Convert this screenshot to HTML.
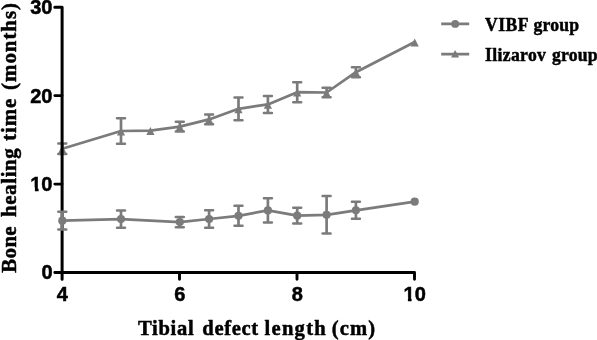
<!DOCTYPE html>
<html><head><meta charset="utf-8"><title>Bone healing time</title>
<style>
html,body{margin:0;padding:0;background:#fff;}
body{width:597px;height:340px;overflow:hidden;}
svg{display:block}
.a{font-family:"Liberation Sans",sans-serif;font-weight:bold;font-size:20px;fill:#000;stroke:#000;stroke-width:0.5px}
.s{font-family:"Liberation Serif",serif;font-weight:bold;fill:#000;stroke:#000;stroke-width:0.5px}
</style></head><body>
<svg width="597" height="340" viewBox="0 0 597 340">
<rect width="597" height="340" fill="#fff"/>
<!-- Ilizarov series -->
<polyline points="62.3,148.8 121.0,131.0 150.4,130.6 179.8,126.6 209.1,119.4 238.5,108.8 267.9,104.4 297.2,92.2 326.6,92.5 355.9,72.2 414.7,42.0" fill="none" stroke="#7b7b7b" stroke-width="2.7" stroke-linejoin="round"/>
<path d="M62.3 143.6V154.0" stroke="#7b7b7b" stroke-width="2.7" fill="none"/>
<path d="M58.3 143.6H66.3M58.3 154.0H66.3" stroke="#7b7b7b" stroke-width="2.5" stroke-linecap="round" fill="none"/>
<path d="M62.3 145.3L66.4 153.2H58.2Z" fill="#7b7b7b"/>
<path d="M121.0 118.2V143.8" stroke="#7b7b7b" stroke-width="2.7" fill="none"/>
<path d="M117.0 118.2H125.0M117.0 143.8H125.0" stroke="#7b7b7b" stroke-width="2.5" stroke-linecap="round" fill="none"/>
<path d="M121.0 127.5L125.1 135.4H116.9Z" fill="#7b7b7b"/>
<path d="M150.4 127.1L154.5 135.0H146.3Z" fill="#7b7b7b"/>
<path d="M179.8 121.8V131.4" stroke="#7b7b7b" stroke-width="2.7" fill="none"/>
<path d="M175.8 121.8H183.8M175.8 131.4H183.8" stroke="#7b7b7b" stroke-width="2.5" stroke-linecap="round" fill="none"/>
<path d="M179.8 123.1L183.9 131.0H175.7Z" fill="#7b7b7b"/>
<path d="M209.1 114.5V124.3" stroke="#7b7b7b" stroke-width="2.7" fill="none"/>
<path d="M205.1 114.5H213.1M205.1 124.3H213.1" stroke="#7b7b7b" stroke-width="2.5" stroke-linecap="round" fill="none"/>
<path d="M209.1 115.9L213.2 123.8H205.0Z" fill="#7b7b7b"/>
<path d="M238.5 97.4V120.2" stroke="#7b7b7b" stroke-width="2.7" fill="none"/>
<path d="M234.5 97.4H242.5M234.5 120.2H242.5" stroke="#7b7b7b" stroke-width="2.5" stroke-linecap="round" fill="none"/>
<path d="M238.5 105.3L242.6 113.2H234.4Z" fill="#7b7b7b"/>
<path d="M267.9 95.9V113.0" stroke="#7b7b7b" stroke-width="2.7" fill="none"/>
<path d="M263.9 95.9H271.9M263.9 113.0H271.9" stroke="#7b7b7b" stroke-width="2.5" stroke-linecap="round" fill="none"/>
<path d="M267.9 100.9L272.0 108.8H263.8Z" fill="#7b7b7b"/>
<path d="M297.2 82.2V102.2" stroke="#7b7b7b" stroke-width="2.7" fill="none"/>
<path d="M293.2 82.2H301.2M293.2 102.2H301.2" stroke="#7b7b7b" stroke-width="2.5" stroke-linecap="round" fill="none"/>
<path d="M297.2 88.7L301.3 96.6H293.1Z" fill="#7b7b7b"/>
<path d="M326.6 87.7V97.3" stroke="#7b7b7b" stroke-width="2.7" fill="none"/>
<path d="M322.6 87.7H330.6M322.6 97.3H330.6" stroke="#7b7b7b" stroke-width="2.5" stroke-linecap="round" fill="none"/>
<path d="M326.6 89.0L330.7 96.9H322.5Z" fill="#7b7b7b"/>
<path d="M355.9 67.2V77.2" stroke="#7b7b7b" stroke-width="2.7" fill="none"/>
<path d="M351.9 67.2H359.9M351.9 77.2H359.9" stroke="#7b7b7b" stroke-width="2.5" stroke-linecap="round" fill="none"/>
<path d="M355.9 68.7L360.1 76.6H351.8Z" fill="#7b7b7b"/>
<path d="M414.7 38.5L418.8 46.4H410.6Z" fill="#7b7b7b"/>
<!-- axes -->
<g stroke="#000" fill="none" stroke-linecap="round" stroke-linejoin="round">
<path d="M54.8 7.2H62.1V279.2" stroke-width="3"/>
<path d="M54.8 272.5H414.5V279.3" stroke-width="2.9"/>
<path d="M54.8 95.6H62M54.8 184.1H62" stroke-width="2.8"/>
<path d="M179.5 272.5V279.3M297 272.5V279.3" stroke-width="2.9"/>
</g>
<!-- tick labels -->
<g class="a" text-anchor="end">
<text x="52.5" y="13.9">30</text>
<text x="52.5" y="102.6">20</text>
<text x="52.5" y="191.1">10</text>
<text x="52.5" y="279.1">0</text>
</g>
<g class="a" text-anchor="middle">
<text x="62.2" y="300.6">4</text>
<text x="179.7" y="300.6">6</text>
<text x="297.2" y="300.6">8</text>
<text x="414.7" y="300.6">10</text>
</g>
<!-- trim the foot of the digit 1 so it reads like the reference face -->
<path d="M403 297H407.9V302.2H403ZM411.6 297H415.2V302.2H411.6ZM30 187.6H34.9V192.6H30ZM38.6 187.6H42.2V192.6H38.6Z" fill="#fff"/>
<!-- axis titles -->
<text class="s" font-size="21.7" transform="scale(0.95 1)" y="335.15"><tspan x="145.26" style="letter-spacing:0.711px">Tibial</tspan> <tspan x="212.95" style="letter-spacing:0.678px">defect</tspan> <tspan x="278.53" style="letter-spacing:1.298px">length</tspan> <tspan x="349.26" style="letter-spacing:1.132px">(cm)</tspan></text>
<text class="s" font-size="20.9" transform="translate(15.5 0) rotate(-90) scale(1.0 1)" y="0"><tspan x="-272.70" style="letter-spacing:0.348px">Bone</tspan> <tspan x="-217.10" style="letter-spacing:0.650px">healing</tspan> <tspan x="-140.80" style="letter-spacing:0.898px">time</tspan> <tspan x="-89.90" style="letter-spacing:0.969px">(months)</tspan></text>
<!-- VIBF series -->
<polyline points="62.3,220.7 121.0,219.1 179.8,222.1 209.1,219.0 238.5,215.8 267.9,210.4 297.2,215.7 326.6,214.8 355.9,210.3 414.7,201.7" fill="none" stroke="#7b7b7b" stroke-width="2.7" stroke-linejoin="round"/>
<path d="M62.3 211.8V229.5" stroke="#7b7b7b" stroke-width="2.7" fill="none"/>
<path d="M58.3 211.8H66.3M58.3 229.5H66.3" stroke="#7b7b7b" stroke-width="2.5" stroke-linecap="round" fill="none"/>
<circle cx="62.3" cy="220.7" r="4.1" fill="#7b7b7b"/>
<path d="M121.0 210.4V227.8" stroke="#7b7b7b" stroke-width="2.7" fill="none"/>
<path d="M117.0 210.4H125.0M117.0 227.8H125.0" stroke="#7b7b7b" stroke-width="2.5" stroke-linecap="round" fill="none"/>
<circle cx="121.0" cy="219.1" r="4.1" fill="#7b7b7b"/>
<path d="M179.8 216.9V227.3" stroke="#7b7b7b" stroke-width="2.7" fill="none"/>
<path d="M175.8 216.9H183.8M175.8 227.3H183.8" stroke="#7b7b7b" stroke-width="2.5" stroke-linecap="round" fill="none"/>
<circle cx="179.8" cy="222.1" r="4.1" fill="#7b7b7b"/>
<path d="M209.1 210.2V227.8" stroke="#7b7b7b" stroke-width="2.7" fill="none"/>
<path d="M205.1 210.2H213.1M205.1 227.8H213.1" stroke="#7b7b7b" stroke-width="2.5" stroke-linecap="round" fill="none"/>
<circle cx="209.1" cy="219.0" r="4.1" fill="#7b7b7b"/>
<path d="M238.5 205.8V225.8" stroke="#7b7b7b" stroke-width="2.7" fill="none"/>
<path d="M234.5 205.8H242.5M234.5 225.8H242.5" stroke="#7b7b7b" stroke-width="2.5" stroke-linecap="round" fill="none"/>
<circle cx="238.5" cy="215.8" r="4.1" fill="#7b7b7b"/>
<path d="M267.9 198.3V222.5" stroke="#7b7b7b" stroke-width="2.7" fill="none"/>
<path d="M263.9 198.3H271.9M263.9 222.5H271.9" stroke="#7b7b7b" stroke-width="2.5" stroke-linecap="round" fill="none"/>
<circle cx="267.9" cy="210.4" r="4.1" fill="#7b7b7b"/>
<path d="M297.2 207.8V223.5" stroke="#7b7b7b" stroke-width="2.7" fill="none"/>
<path d="M293.2 207.8H301.2M293.2 223.5H301.2" stroke="#7b7b7b" stroke-width="2.5" stroke-linecap="round" fill="none"/>
<circle cx="297.2" cy="215.7" r="4.1" fill="#7b7b7b"/>
<path d="M326.6 196.1V233.5" stroke="#7b7b7b" stroke-width="2.7" fill="none"/>
<path d="M322.6 196.1H330.6M322.6 233.5H330.6" stroke="#7b7b7b" stroke-width="2.5" stroke-linecap="round" fill="none"/>
<circle cx="326.6" cy="214.8" r="4.1" fill="#7b7b7b"/>
<path d="M355.9 201.8V218.8" stroke="#7b7b7b" stroke-width="2.7" fill="none"/>
<path d="M351.9 201.8H359.9M351.9 218.8H359.9" stroke="#7b7b7b" stroke-width="2.5" stroke-linecap="round" fill="none"/>
<circle cx="355.9" cy="210.3" r="4.1" fill="#7b7b7b"/>
<circle cx="414.7" cy="201.7" r="4.1" fill="#7b7b7b"/>
<!-- legend -->
<path d="M441.2 23.9H469.2M441.2 54.1H469.2" stroke="#7b7b7b" stroke-width="2.7" fill="none"/>
<circle cx="455.2" cy="23.9" r="3.9" fill="#7b7b7b"/>
<path d="M455.1 49.9L459.1 57.6H451.1Z" fill="#7b7b7b"/>
<text class="s" font-size="19.0" transform="scale(0.93 1)" y="30.6"><tspan x="521.51" style="letter-spacing:0.446px">VIBF</tspan> <tspan x="573.55" style="letter-spacing:0.241px">group</tspan></text>
<text class="s" font-size="19.0" transform="scale(0.93 1)" y="60.6"><tspan x="521.51" style="letter-spacing:0.372px">Ilizarov</tspan> <tspan x="593.44" style="letter-spacing:0.241px">group</tspan></text>
</svg>
</body></html>
